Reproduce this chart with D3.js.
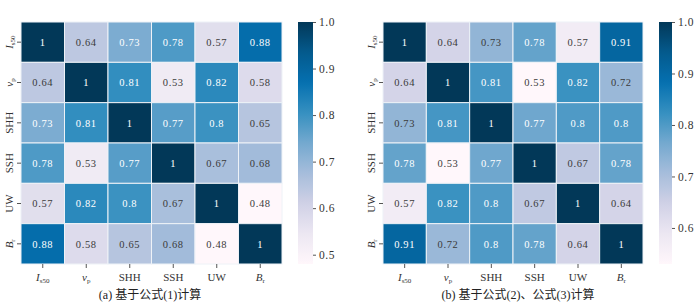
<!DOCTYPE html>
<html>
<head>
<meta charset="utf-8">
<script src="https://cdn.jsdelivr.net/npm/d3@7"></script>
<style>
  body { margin: 0; background: #fff; }
  svg { display: block; }
  text { font-family: "Liberation Serif", "DejaVu Serif", serif; }
</style>
</head>
<body>
<div id="chart"></div>
<script>
'use strict';

// labels (main letter, subscript, italic)
var labels = [
	{main: 'I', sub: 's50', italic: true},
	{main: 'v', sub: 'p', italic: true},
	{main: 'SHH'},
	{main: 'SSH'},
	{main: 'UW'},
	{main: 'B', sub: 'r', italic: true}
];

// (a) formula (1)
var valuesA = [
	[1, 0.64, 0.73, 0.78, 0.57, 0.88],
	[0.64, 1, 0.81, 0.53, 0.82, 0.58],
	[0.73, 0.81, 1, 0.77, 0.8, 0.65],
	[0.78, 0.53, 0.77, 1, 0.67, 0.68],
	[0.57, 0.82, 0.8, 0.67, 1, 0.48],
	[0.88, 0.58, 0.65, 0.68, 0.48, 1]
];

// (b) formula (2), (3)
var valuesB = [
	[1, 0.64, 0.73, 0.78, 0.57, 0.91],
	[0.64, 1, 0.81, 0.53, 0.82, 0.72],
	[0.73, 0.81, 1, 0.77, 0.8, 0.8],
	[0.78, 0.53, 0.77, 1, 0.67, 0.78],
	[0.57, 0.82, 0.8, 0.67, 1, 0.64],
	[0.91, 0.72, 0.8, 0.78, 0.64, 1]
];

var ticksA = [0.5, 0.6, 0.7, 0.8, 0.9, 1.0];
var ticksB = [0.6, 0.7, 0.8, 0.9, 1.0];
var captionA = '(a) 基于公式(1)计算';
var captionB = '(b) 基于公式(2)、公式(3)计算';

// matplotlib PuBu (linear segments)
var pubu = ['#fff7fb', '#ece7f2', '#d0d1e6', '#a6bddb', '#74a9cf', '#3690c0', '#0570b0', '#045a8d', '#023858'];

var W = 700, H = 302;
var svg = d3.select('#chart').append('svg')
	.attr('width', W)
	.attr('height', H);

var defs = svg.append('defs');

function luminance(c){
	var rgb = d3.rgb(c);
	var f = function(v){
		v = v / 255;
		return v <= 0.03928 ? v / 12.92 : Math.pow((v + 0.055) / 1.055, 2.4);
	};
	return 0.2126 * f(rgb.r) + 0.7152 * f(rgb.g) + 0.0722 * f(rgb.b);
}

function addLabel(sel, d){
	sel.append('tspan')
		.style('font-style', d.italic ? 'italic' : 'normal')
		.text(d.main);
	if(d.sub){
		sel.append('tspan')
			.attr('baseline-shift', '-25%')
			.style('font-size', '7px')
			.text(d.sub);
	}
}

function drawPanel(opt){
	var vmin = opt.vmin, vmax = 1;
	var domain = d3.range(pubu.length).map(function(i){ return vmin + (vmax - vmin) * i / (pubu.length - 1); });
	var color = d3.scaleLinear().domain(domain).range(pubu).interpolate(d3.interpolateRgb).clamp(true);

	var g = svg.append('g');

	var x = d3.scaleBand().domain(d3.range(labels.length)).range([opt.x0, opt.x1]);
	var y = d3.scaleBand().domain(d3.range(labels.length)).range([opt.y0, opt.y1]);

	var cells = [];
	opt.values.forEach(function(row, i){
		row.forEach(function(v, j){ cells.push({r: i, c: j, v: v}); });
	});

	g.append('g').selectAll('rect').data(cells).enter().append('rect')
		.attr('x', function(d){ return x(d.c); })
		.attr('y', function(d){ return y(d.r); })
		.attr('width', x.bandwidth())
		.attr('height', y.bandwidth())
		.attr('fill', function(d){ return color(d.v); })
		.attr('stroke', '#eef2f7')
		.attr('stroke-width', 1);

	g.append('g').selectAll('text').data(cells).enter().append('text')
		.attr('x', function(d){ return x(d.c) + x.bandwidth() / 2; })
		.attr('y', function(d){ return y(d.r) + y.bandwidth() / 2; })
		.attr('dy', '0.35em')
		.attr('text-anchor', 'middle')
		.style('font-size', '10.5px')
		.style('letter-spacing', '0.6px')
		.attr('fill', function(d){ return luminance(color(d.v)) < 0.408 ? '#ffffff' : '#3a3a3a'; })
		.text(function(d){ return d3.format('')(d.v); });

	// axes
	var xAxis = g.append('g')
		.attr('transform', 'translate(0,' + opt.y1 + ')')
		.call(d3.axisBottom(x).tickSize(4).tickFormat(''));
	var yAxis = g.append('g')
		.attr('transform', 'translate(' + opt.x0 + ',0)')
		.call(d3.axisLeft(y).tickSize(4).tickFormat(''));
	[xAxis, yAxis].forEach(function(a){
		a.select('.domain').remove();
		a.selectAll('line').attr('stroke', '#555');
	});

	labels.forEach(function(d, i){
		var t = g.append('text')
			.attr('x', x(i) + x.bandwidth() / 2)
			.attr('y', opt.y1 + 17)
			.attr('text-anchor', 'middle')
			.attr('fill', '#333')
			.style('font-size', '11px');
		addLabel(t, d);

		var ty = g.append('text')
			.attr('transform', 'translate(' + (opt.x0 - 8) + ',' + (y(i) + y.bandwidth() / 2) + ') rotate(-90)')
			.attr('text-anchor', 'middle')
			.attr('fill', '#333')
			.style('font-size', '11px');
		addLabel(ty, d);
	});

	// colorbar
	var cb = d3.scaleLinear().domain([vmin, vmax]).range([opt.y1, opt.y0]);
	var gid = 'grad' + opt.id;
	var grad = defs.append('linearGradient')
		.attr('id', gid)
		.attr('x1', 0).attr('y1', 1).attr('x2', 0).attr('y2', 0);
	d3.range(0, 1.0001, 0.02).forEach(function(t){
		grad.append('stop')
			.attr('offset', t)
			.attr('stop-color', color(vmin + (vmax - vmin) * t));
	});
	g.append('rect')
		.attr('x', opt.cbx)
		.attr('y', opt.y0)
		.attr('width', opt.cbw)
		.attr('height', opt.y1 - opt.y0)
		.attr('fill', 'url(#' + gid + ')');

	var cbAxis = g.append('g')
		.attr('transform', 'translate(' + (opt.cbx + opt.cbw) + ',0)')
		.call(d3.axisRight(cb).tickValues(opt.ticks).tickSize(3).tickFormat(d3.format('.1f')));
	cbAxis.select('.domain').remove();
	cbAxis.selectAll('line').attr('stroke', '#555');
	cbAxis.selectAll('text')
		.attr('fill', '#333')
		.style('font-family', '"Liberation Serif", serif')
		.style('font-size', '11.5px')
		.style('letter-spacing', '0.5px');

	// caption
	g.append('text')
		.attr('x', opt.capx)
		.attr('y', 299)
		.attr('text-anchor', 'middle')
		.attr('fill', '#222')
		.style('font-family', '"Liberation Serif", "Noto Sans CJK SC", serif')
		.style('font-size', '12px')
		.text(opt.caption);
}

drawPanel({
	id: 'a', values: valuesA, vmin: 0.48, ticks: ticksA,
	x0: 21, x1: 282, y0: 22, y1: 264,
	cbx: 298, cbw: 15,
	capx: 150, caption: captionA
});

drawPanel({
	id: 'b', values: valuesB, vmin: 0.53, ticks: ticksB,
	x0: 383, x1: 643, y0: 22, y1: 264,
	cbx: 659, cbw: 13,
	capx: 518, caption: captionB
});
</script>
</body>
</html>
